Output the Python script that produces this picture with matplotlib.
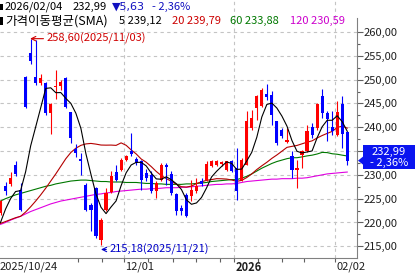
import numpy as np
import pandas as pd
import matplotlib
matplotlib.use('Agg')
import matplotlib.pyplot as plt
from matplotlib.patches import Polygon, Rectangle

plt.rcParams['font.family'] = ['Noto Sans CJK KR', 'DejaVu Sans']

# daily candles, 2025/10/24 .. 2026/02/04 (index 0..69)
opens = [222.0, 227.6, 228.1, 232.0, 226.9, 250.5, 255.6, 250.5, 249.3, 249.3,
         243.0, 248.4, 248.6, 250.35, 243.1, 235.4, 233.3, 227.95, 223.75, 227.25,
         216.4, 222.7, 226.35, 230.6, 231.1, 233.2, 234.95, 233.4, 232.85, 230.3,
         230.05, 226.55, 229.0, 232.15, 230.2, 225.95, 223.05, 225.85, 225.5, 226.55,
         228.65, 229.0, 231.8, 232.15, 232.3, 231.1, 233.0, 231.45, 229.0, 232.15,
         239.85, 244.05, 244.4, 247.0, 246.85, 241.25, 239.5, 237.0, 233.9, 231.1,
         234.15, 234.95, 240.0, 239.85, 246.5, 243.0, 240.0, 238.3, 244.9, 239.0]
highs = [224.8, 228.5, 230.6, 232.85, 228.3, 250.7, 258.6, 258.3, 251.2, 249.6,
         245.1, 252.1, 250.0, 250.5, 243.3, 236.5, 234.6, 228.3, 224.1, 227.4,
         220.95, 227.25, 230.75, 232.15, 233.55, 234.25, 238.8, 233.7, 233.2, 231.2,
         230.75, 228.65, 232.5, 232.5, 230.75, 226.2, 223.75, 226.2, 229.0, 229.35,
         229.35, 232.85, 233.2, 233.2, 233.0, 233.0, 233.2, 235.65, 233.55, 243.35,
         243.7, 246.85, 248.25, 249.1, 247.55, 241.4, 239.85, 239.85, 234.95, 233.2,
         235.3, 240.55, 240.9, 245.1, 248.05, 243.35, 243.35, 245.45, 246.5, 239.15]
lows = [221.6, 225.85, 227.6, 229.7, 222.5, 244.0, 253.3, 248.95, 248.8, 242.5,
        238.6, 245.9, 247.9, 244.0, 236.7, 233.8, 230.05, 222.35, 218.15, 216.75,
        215.18, 222.35, 226.2, 228.65, 230.75, 232.85, 233.9, 232.15, 226.9, 228.8,
        226.2, 225.15, 228.65, 227.95, 225.85, 221.65, 221.65, 221.1, 224.45, 226.2,
        227.6, 228.8, 231.6, 231.8, 231.8, 230.9, 230.5, 224.8, 228.65, 232.0,
        239.5, 241.6, 244.25, 245.8, 240.55, 236.35, 237.75, 236.7, 229.35, 227.25,
        231.45, 234.8, 237.75, 239.5, 241.95, 237.05, 238.45, 238.1, 235.65, 232.0]
closes = [224.45, 226.7, 229.35, 230.25, 222.7, 244.25, 253.85, 249.3, 250.35, 243.0,
          244.9, 248.75, 249.4, 244.25, 237.75, 234.5, 232.85, 222.7, 222.7, 217.1,
          220.6, 226.2, 229.7, 229.0, 233.2, 234.05, 234.4, 232.5, 229.0, 229.4,
          226.55, 228.3, 232.15, 231.6, 226.2, 222.35, 222.35, 221.3, 226.9, 227.6,
          228.1, 232.35, 232.85, 232.85, 232.7, 232.85, 230.75, 226.55, 233.2, 241.25,
          241.95, 246.5, 247.9, 246.35, 242.65, 236.7, 238.1, 237.4, 231.1, 231.45,
          234.95, 239.15, 238.45, 244.9, 243.0, 241.8, 239.15, 243.2, 238.62, 232.99]

# moving-average values before enough closes are on screen
ma5_head = [220.0, 222.8, 225.0, 226.5]
ma20_head = [219.8, 220.2, 220.6, 221.0, 221.3, 222.2, 223.3, 224.5, 225.8, 227.2,
             228.7, 230.2, 231.8, 233.4, 234.7, 235.6, 236.2, 236.5, 236.6]
ma60_head = [224.5, 225.0, 225.4, 225.8, 226.1, 226.4, 226.7, 227.0, 227.3, 227.6,
             227.8, 228.1, 228.3, 228.5, 228.7, 228.8, 228.9, 228.9, 228.8, 228.7,
             228.6, 228.6, 228.5, 228.5, 228.5, 228.4, 228.4, 228.4, 228.3, 228.2,
             228.2, 228.1, 228.1, 228.0, 228.0, 228.0, 228.0, 228.1, 228.1, 228.2,
             228.3, 228.4, 228.6, 228.7, 228.8, 228.9, 229.0, 229.0, 229.3, 229.7,
             230.2, 230.8, 231.4, 231.9, 232.4, 232.8, 233.1, 233.4, 233.6]
ma120 = [219.6, 220.0, 220.5, 220.9, 221.3, 221.8, 222.3, 222.7, 223.1, 223.5,
         223.9, 224.2, 224.5, 224.7, 224.9, 225.1, 225.3, 225.5, 225.7, 225.9,
         226.0, 226.2, 226.3, 226.5, 226.6, 226.7, 226.8, 226.9, 227.0, 227.0,
         227.1, 227.1, 227.2, 227.3, 227.3, 227.3, 227.4, 227.4, 227.5, 227.6,
         227.7, 227.8, 227.9, 228.0, 228.0, 228.1, 228.1, 228.2, 228.4, 228.6,
         228.7, 228.8, 228.9, 229.0, 229.1, 229.1, 229.2, 229.2, 229.2, 229.3,
         229.3, 229.4, 229.6, 229.8, 230.0, 230.2, 230.3, 230.4, 230.5, 230.59]

# header figures as printed on the chart
last_date = '2026/02/04'
last_price = 232.99
change = -5.63
change_pct = -2.36
ma_periods = [5, 20, 60, 120]
ma_last = [239.12, 239.79, 233.88, 230.59]

month_ticks = [24.55, 46.55, 66.55]
month_labels = ['12/01', '2026', '02/02']
minor_ticks = [15.5, 20.2, 29.4, 34.4, 39.0, 43.7, 51.3, 56.0, 60.3]

RED = '#ff0000'
BLUE = '#0000ff'
W, H = 415, 277


def fx(px):
    return px / W


def fy(py):
    return 1 - py / H


def kr(v):
    return f'{v:.2f}'.replace('.', ',')


fig = plt.figure(figsize=(W / 100, H / 100), dpi=100)
ax = fig.add_axes([0, fy(258), fx(357), 258 / H])

x = np.arange(len(closes))
o = np.array(opens)
c = np.array(closes)
up = c >= o
cols = np.where(up, RED, BLUE)

ax.vlines(x, lows, highs, colors=cols, lw=0.8, zorder=3)
body = np.maximum(np.abs(c - o), 0.2)
ax.bar(x, body, bottom=np.minimum(o, c), width=0.62, color=cols, lw=0, zorder=4)

cs = pd.Series(closes)
ma5 = np.concatenate([ma5_head, cs.rolling(5).mean().to_numpy()[4:]])
ma20 = np.concatenate([ma20_head, cs.rolling(20).mean().to_numpy()[19:]])
ma60 = np.concatenate([ma60_head, cs.rolling(60).mean().to_numpy()[59:]])

ax.plot(x, ma120, color='#e000e0', lw=0.8, zorder=2)
ax.plot(x, ma60, color='#007800', lw=0.8, zorder=2)
ax.plot(x, ma20, color='#b40000', lw=0.8, zorder=2)
ax.plot(x, ma5, color='black', lw=0.8, zorder=5)

ax.set_xlim(-0.1, 70.94)
ax.set_ylim(212.54, 266.72)

grid_kw = dict(color='#c4c4c4', lw=0.8, linestyle=(0, (3, 3)), zorder=0)
for v in range(215, 261, 5):
    ax.axhline(v, **grid_kw)
for t in month_ticks:
    ax.axvline(t, **grid_kw)

# y axis on the right (235 label sits under the price tag)
yt = list(range(215, 261, 5))
ax.yaxis.tick_right()
ax.set_yticks(yt)
ax.set_yticklabels(['' if v == 235 else kr(v) for v in yt])
ax.set_yticks(np.arange(217.5, 261, 5), minor=True)
ax.tick_params(axis='y', which='major', length=4, width=0.8, pad=1,
               labelsize=8, color='#606060', labelcolor='#202020')
ax.tick_params(axis='y', which='minor', length=2, width=0.8, color='#606060')

# x axis
ax.set_xticks(month_ticks)
ax.set_xticks(minor_ticks, minor=True)
ax.set_xticklabels([])
ax.tick_params(axis='x', which='both', length=3, width=0.8, color='#606060')
xt = ax.get_xaxis_transform()
ax.text(-0.1, -0.035, '2025/10/24', transform=xt, ha='left', va='center',
        fontsize=8, color='#202020')
for t, lab in zip(month_ticks, month_labels):
    ax.text(t + 0.25, -0.035, lab, transform=xt, ha='left', va='center',
            fontsize=8, color='#202020',
            fontweight='bold' if lab == '2026' else 'normal')

for s in ['left', 'top']:
    ax.spines[s].set_visible(False)
for s in ['right', 'bottom']:
    ax.spines[s].set_color('#808080')
    ax.spines[s].set_linewidth(0.8)
ax.spines['right'].set_bounds(212.54, 263.0)

# high / low markers
hi = int(np.argmax(highs))
lo = int(np.argmin(lows))
ax.annotate(kr(highs[hi]) + '(2025/11/03)',
            xy=(hi - 0.1, highs[hi]), xytext=(hi + 3.1, highs[hi]),
            color='#d00000', fontsize=8, ha='left', va='center',
            arrowprops=dict(arrowstyle='->', color='#d00000', lw=0.8,
                            shrinkA=0, shrinkB=0))
ax.annotate(kr(lows[lo]) + '(2025/11/21)',
            xy=(lo, lows[lo] - 0.85), xytext=(lo + 1.6, lows[lo] - 0.85),
            color='#0000c8', fontsize=8, ha='left', va='center',
            arrowprops=dict(arrowstyle='->', color='#0000c8', lw=0.8,
                            shrinkA=0, shrinkB=0))

# header lines
fig.add_artist(Rectangle((0, fy(10)), fx(2.5), 6.5 / H, transform=fig.transFigure,
                         color='black', lw=0))
fig.add_artist(Rectangle((0, fy(25)), fx(2.5), 8 / H, transform=fig.transFigure,
                         color='black', lw=0))
row1 = [(5, last_date, 'black', None),
        (73, kr(last_price), 'black', None),
        (112, '▼' + kr(abs(change)), '#1010c0', ['DejaVu Sans']),
        (152, '- ' + kr(abs(change_pct)) + '%', '#1010c0', None)]
for px, s, col, fam in row1:
    fig.text(fx(px), fy(7), s, color=col, fontsize=8, ha='left', va='center',
             family=fam or ['Noto Sans CJK KR', 'DejaVu Sans'])
fig.text(fx(5), fy(21), '가격이동평균(SMA)', color='black', fontsize=9,
         ha='left', va='center')
ma_cols = ['black', '#cc0000', '#007800', '#cc00cc']
ma_x = [119, 172, 230, 290]
for px, n, v, col in zip(ma_x, ma_periods, ma_last, ma_cols):
    fig.text(fx(px), fy(21), f'{n} {kr(v)}', color=col, fontsize=8,
             ha='left', va='center')

# current price tag
tip_y = 32 + (260 - last_price) * 4.762
pts = [(363, 145), (415, 145), (415, 169), (363, 169), (363, tip_y + 4),
       (358, tip_y), (363, tip_y - 4)]
fig.add_artist(Polygon([(fx(a), fy(b)) for a, b in pts], closed=True,
                       transform=fig.transFigure, color='#0a14f0', lw=0, zorder=10))
fig.text(fx(389), fy(151.5), kr(last_price), color='white',
         fontsize=8, ha='center', va='center', zorder=11)
fig.text(fx(389), fy(162.5), '- ' + kr(abs(change_pct)) + '%', color='white',
         fontsize=8, ha='center', va='center', zorder=11)

fig.savefig('out.png', dpi=100)
